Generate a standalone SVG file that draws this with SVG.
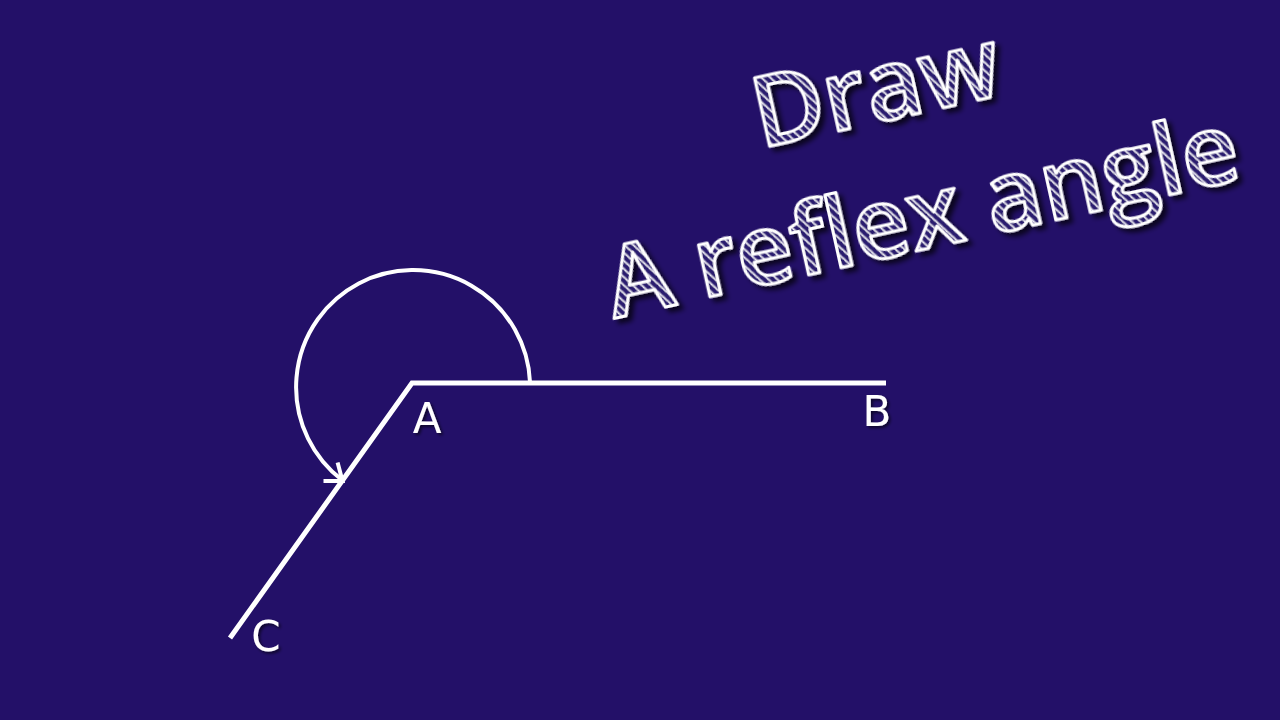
<svg xmlns="http://www.w3.org/2000/svg" width="1280" height="720" viewBox="0 0 1280 720">
<defs>
<pattern id="hatch" width="6" height="6" patternUnits="userSpaceOnUse" patternTransform="rotate(-35)">
<rect width="6" height="6" fill="#2b1b70"/>
<line x1="0" y1="0" x2="0" y2="6" stroke="#ffffff" stroke-width="3.2"/>
</pattern>
<filter id="shadow" x="-10%" y="-20%" width="130%" height="150%">
<feDropShadow dx="4" dy="5" stdDeviation="2.5" flood-color="#000000" flood-opacity="0.7"/>
</filter>
<filter id="lshadow" x="-20%" y="-20%" width="150%" height="150%">
<feDropShadow dx="2" dy="2" stdDeviation="1.5" flood-color="#000000" flood-opacity="0.6"/>
</filter>
<style>
.title{font-family:"Open Sans","Liberation Sans",sans-serif;font-weight:600;font-size:98px;fill:url(#hatch);stroke:#ffffff;stroke-width:3;stroke-linejoin:round;filter:url(#shadow)}
.lbl{font-family:"DejaVu Sans","Liberation Sans",sans-serif;font-size:42px;fill:#ffffff;filter:url(#lshadow)}
.ln{stroke:#ffffff;stroke-width:5;stroke-linecap:butt;fill:none}
.arc{stroke:#ffffff;stroke-width:4;fill:none}
</style>
</defs>
<rect width="1280" height="720" fill="#231068"/>
<g id="title" transform="translate(614,318) rotate(-12.5)">
<text class="title" x="180" y="-134">Draw</text>
<text class="title" x="0" y="0">A reflex angle</text>
</g>
<g id="connectors">
<path class="ln" d="M 886 383 L 412 383 L 230 638" stroke-linejoin="miter"/>
<path class="arc" d="M 530 382 A 117 117 0 1 0 342.5 480.4"/>
<path class="arc" d="M 323.5 481 L 342.5 481 L 337.6 462.6" stroke-linejoin="miter"/>
</g>
<g id="node-A"><text class="lbl" x="427" y="433" text-anchor="middle">A</text></g>
<g id="node-B"><text class="lbl" x="877" y="426" text-anchor="middle">B</text></g>
<g id="node-C"><text class="lbl" x="266" y="651" text-anchor="middle">C</text></g>
</svg>
